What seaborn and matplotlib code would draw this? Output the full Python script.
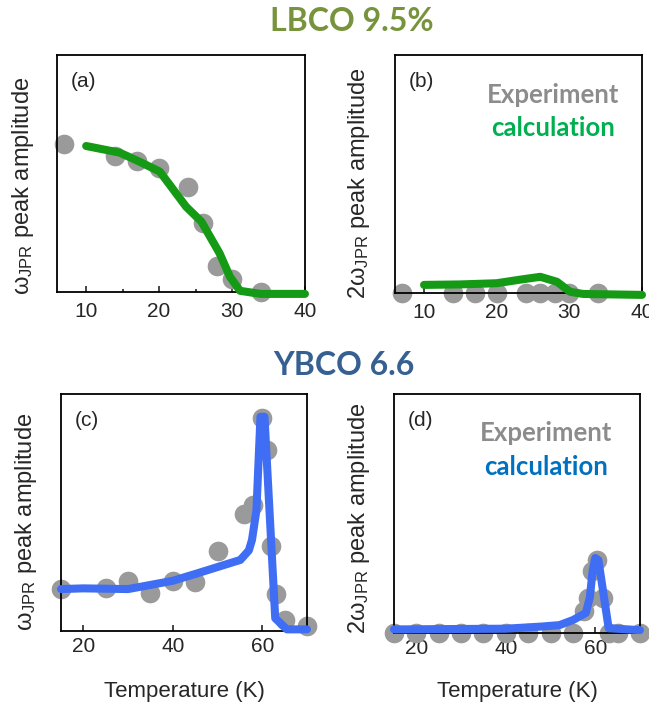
import numpy as np
import pandas as pd
import seaborn as sns
from matplotlib import pyplot as plt
from matplotlib.ticker import MultipleLocator

# LBCO 9.5% experiment (normalised amplitudes)
lbco_T = [7, 14, 17, 20, 24, 26, 28, 30, 34]
lbco_w1 = [0.624, 0.574, 0.554, 0.523, 0.442, 0.290, 0.110, 0.054, 0.0]
lbco_w2 = [0, 0, 0, 0, 0, 0, 0, 0, 0]

# LBCO 9.5% calculation
lbco_calc_T1 = [10, 14.6, 17.3, 20.1, 23.7, 25.8, 28.3, 29.7, 31.1, 33.9, 40]
lbco_calc_w1 = [0.616, 0.588, 0.550, 0.508, 0.360, 0.297, 0.163, 0.065, 0.005, -0.008, -0.008]
lbco_calc_T2 = [10, 15, 20, 23, 26, 28.3, 30.1, 31.9, 40]
lbco_calc_w2 = [0.034, 0.036, 0.041, 0.055, 0.068, 0.047, 0.005, -0.004, -0.008]

# YBCO 6.6 experiment
ybco_T1 = [15, 25, 30, 35, 40, 45, 50, 56, 58, 60, 61, 62, 63, 65, 70]
ybco_w1 = [0.177, 0.180, 0.212, 0.162, 0.212, 0.205, 0.338, 0.494, 0.532, 0.897, 0.764, 0.360, 0.156, 0.046, 0.021]
ybco_T2 = [15, 20, 25, 30, 35, 40, 45, 50, 55, 57.5, 58.3, 59.3, 60.5, 61.7, 63, 65, 70]
ybco_w2 = [0, 0, 0, 0, 0, 0, 0, 0, 0, 0.09, 0.145, 0.26, 0.305, 0.145, 0, 0, 0]

# YBCO 6.6 calculation
ybco_calc_T1 = [15, 20, 30, 40, 45.4, 50, 55.1, 57, 57.7, 58.7, 59.6, 60.5, 62.9, 65.5, 70]
ybco_calc_w1 = [0.177, 0.180, 0.177, 0.212, 0.243, 0.270, 0.300, 0.340, 0.384, 0.510, 0.904, 0.904, 0.054, 0.007, 0.007]
ybco_calc_T2 = [15, 40, 48, 52, 55, 57.9, 58.8, 59.4, 60, 60.7, 63, 70]
ybco_calc_w2 = [0.015, 0.018, 0.027, 0.033, 0.054, 0.084, 0.15, 0.26, 0.314, 0.305, 0.02, 0.012]

sns.set_style("white")
plt.rcParams['font.family'] = ['Liberation Sans', 'DejaVu Sans']
plt.rcParams['mathtext.fontset'] = 'custom'
plt.rcParams['mathtext.rm'] = 'Liberation Sans'

GRAY = "#9a9a9a"
GREEN_LINE = "#159a15"
BLUE_LINE = "#3f6ef5"

fig = plt.figure(figsize=(6.49, 7.06), dpi=100)
ax_a = fig.add_axes([0.0878, 0.5864, 0.3821, 0.3357])
ax_b = fig.add_axes([0.6086, 0.5850, 0.3806, 0.3371])
ax_c = fig.add_axes([0.0940, 0.1062, 0.3790, 0.3357])
ax_d = fig.add_axes([0.6071, 0.1034, 0.3790, 0.3385])

panels = [
    (ax_a, lbco_T, lbco_w1, lbco_calc_T1, lbco_calc_w1, GREEN_LINE, "(a)", r"$\mathregular{ω_{JPR}}$ peak amplitude"),
    (ax_b, lbco_T, lbco_w2, lbco_calc_T2, lbco_calc_w2, GREEN_LINE, "(b)", r"2$\mathregular{ω_{JPR}}$ peak amplitude"),
    (ax_c, ybco_T1, ybco_w1, ybco_calc_T1, ybco_calc_w1, BLUE_LINE, "(c)", r"$\mathregular{ω_{JPR}}$ peak amplitude"),
    (ax_d, ybco_T2, ybco_w2, ybco_calc_T2, ybco_calc_w2, BLUE_LINE, "(d)", r"2$\mathregular{ω_{JPR}}$ peak amplitude"),
]

for ax, tx, wy, tc, wc, lc, letter, ylab in panels:
    sns.scatterplot(x=tx, y=wy, ax=ax, color=GRAY, s=200, linewidth=0,
                    clip_on=False, zorder=2)
    sns.lineplot(x=tc, y=wc, ax=ax, color=lc, lw=5.8, clip_on=False,
                 zorder=3, solid_joinstyle='round')
    ax.set_ylim(0, 1)
    ax.set_yticks([])
    for sp in ax.spines.values():
        sp.set_visible(True)
        sp.set_color("black")
        sp.set_linewidth(1.3)
    ax.set_ylabel(ylab, fontsize=17)
    ax.text(0.055, 0.93, letter, transform=ax.transAxes, fontsize=15,
            va='top', ha='left')

for ax in (ax_a, ax_b):
    ax.set_xlim(6, 40)
    ax.set_xticks([10, 20, 30, 40])
    ax.xaxis.set_minor_locator(MultipleLocator(5))
    ax.tick_params(axis='x', which='major', direction='in', length=4.5,
                   width=1.2, labelsize=15, pad=7, bottom=True)
    ax.tick_params(axis='x', which='minor', direction='in', length=2.5,
                   width=1.2, bottom=True)

for ax in (ax_c, ax_d):
    ax.set_xlim(15, 70)
    ax.set_xticks([20, 40, 60])
    ax.tick_params(axis='x', which='major', direction='in', length=4.5,
                   width=1.2, labelsize=15, pad=4, bottom=True)
    ax.set_xlabel("Temperature (K)", fontsize=16)

ax_c.xaxis.set_label_coords(0.5, -0.212)
ax_d.xaxis.set_label_coords(0.5, -0.202)

ax_a.yaxis.set_label_coords(-0.085, 0.447)
ax_b.yaxis.set_label_coords(-0.095, 0.46)
ax_c.yaxis.set_label_coords(-0.088, 0.46)
ax_d.yaxis.set_label_coords(-0.088, 0.48)

# in-panel legends
ax_b.text(0.64, 0.832, "Experiment", transform=ax_b.transAxes, fontsize=18.5,
          family="Lato", weight="bold", color="#8c8c8c", ha='center', va='center')
ax_b.text(0.64, 0.693, "calculation", transform=ax_b.transAxes, fontsize=18.5,
          family="Lato", weight="bold", color="#00b050", ha='center', va='center')
ax_d.text(0.618, 0.837, "Experiment", transform=ax_d.transAxes, fontsize=18.5,
          family="Lato", weight="bold", color="#8c8c8c", ha='center', va='center')
ax_d.text(0.618, 0.695, "calculation", transform=ax_d.transAxes, fontsize=18.5,
          family="Lato", weight="bold", color="#0070c0", ha='center', va='center')

fig.text(0.542, 0.969, "LBCO 9.5%", fontsize=23, family="Lato", weight="bold",
         color="#77933c", ha='center', va='center')
fig.text(0.530, 0.483, "YBCO 6.6", fontsize=23, family="Lato", weight="bold",
         color="#366092", ha='center', va='center')

fig.savefig("out.png", dpi=100)
